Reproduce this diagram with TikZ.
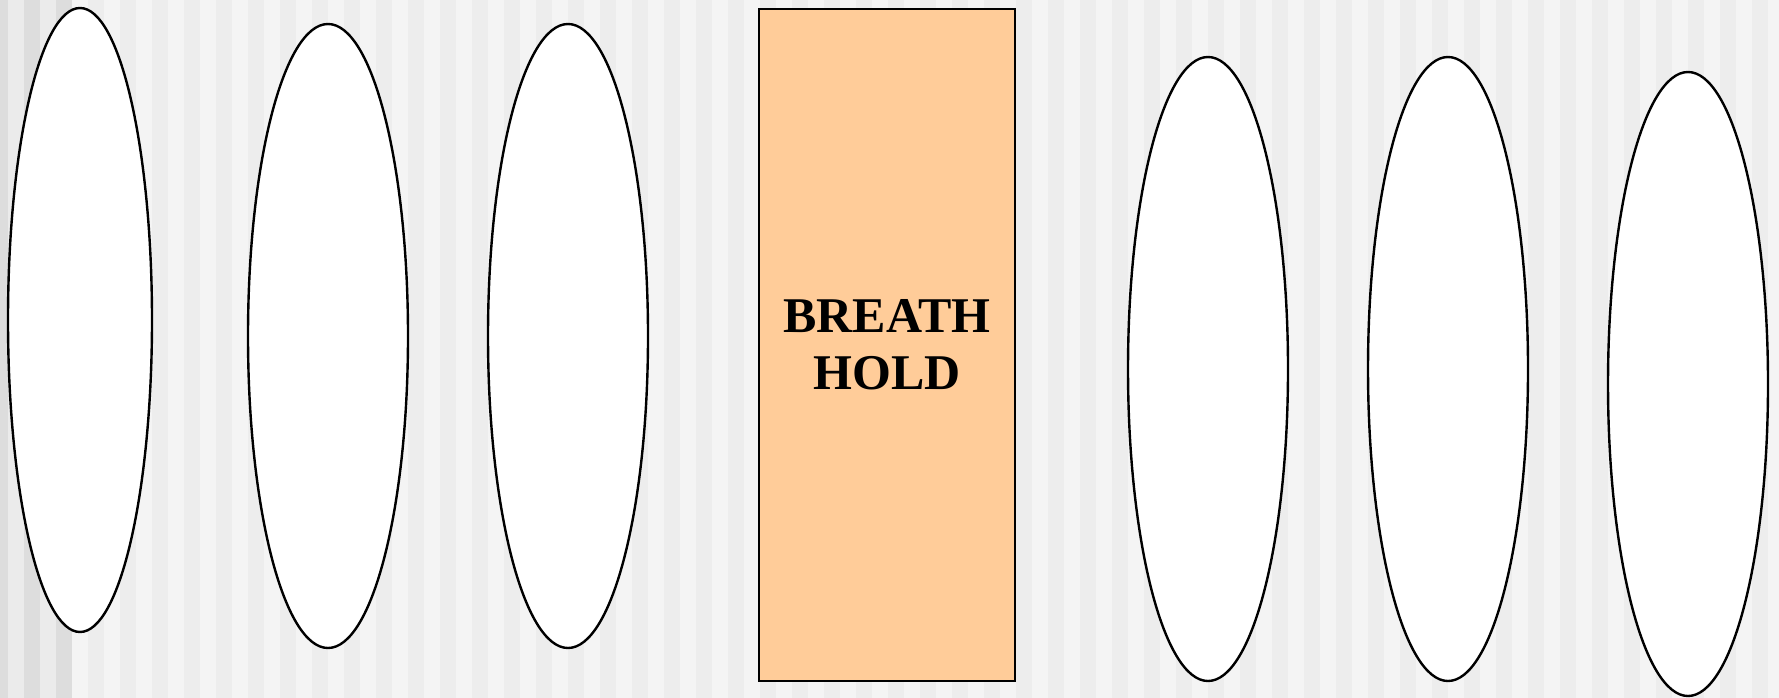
\documentclass[tikz,border=0pt]{standalone}
\usepackage{fontspec}
\setmainfont{Liberation Serif}
\usetikzlibrary{shapes.geometric}
\definecolor{stripeDark}{HTML}{DDDDDD}
\definecolor{stripeMid}{HTML}{EBEBEB}
\definecolor{stripeLight}{HTML}{F4F4F4}
\definecolor{stripeGrey}{HTML}{EDEDED}
\definecolor{peach}{HTML}{FFCC99}
\begin{document}
\begin{tikzpicture}[x=1pt,y=-1pt,
  lens/.style={ellipse, draw=black, line width=2.4pt, fill=white,
    minimum width=160pt, minimum height=624pt, inner sep=0pt},
  holdbox/.style={rectangle, draw=black, line width=2.4pt, fill=peach,
    minimum width=256pt, minimum height=672pt, inner sep=0pt, align=center,
    font=\fontsize{50}{57}\selectfont\bfseries}]
\useasboundingbox (0,0) rectangle (1779,698);
% background stripes
\fill[stripeDark] (0,0) rectangle (8,698);
\foreach \k in {0,...,110}{
  \pgfmathsetmacro{\xs}{8+16*\k}
  \pgfmathtruncatemacro{\myparity}{mod(\k,2)}
  \ifnum\k<4
    \ifnum\myparity=0 \def\col{stripeMid}\else\def\col{stripeDark}\fi
  \else
    \ifnum\myparity=0 \def\col{stripeLight}\else\def\col{stripeGrey}\fi
  \fi
  \fill[\col] (\xs,0) rectangle ({\xs+16},698);
}
\node[lens, minimum width=144pt] (e1) at (80,320) {};
\node[lens] (e2) at (328,336) {};
\node[lens] (e3) at (568,336) {};
\node[holdbox] (hold) at (887,345) {BREATH\\HOLD};
\node[lens] (e4) at (1208,369) {};
\node[lens] (e5) at (1448,369) {};
\node[lens] (e6) at (1688,384) {};
\end{tikzpicture}
\end{document}
